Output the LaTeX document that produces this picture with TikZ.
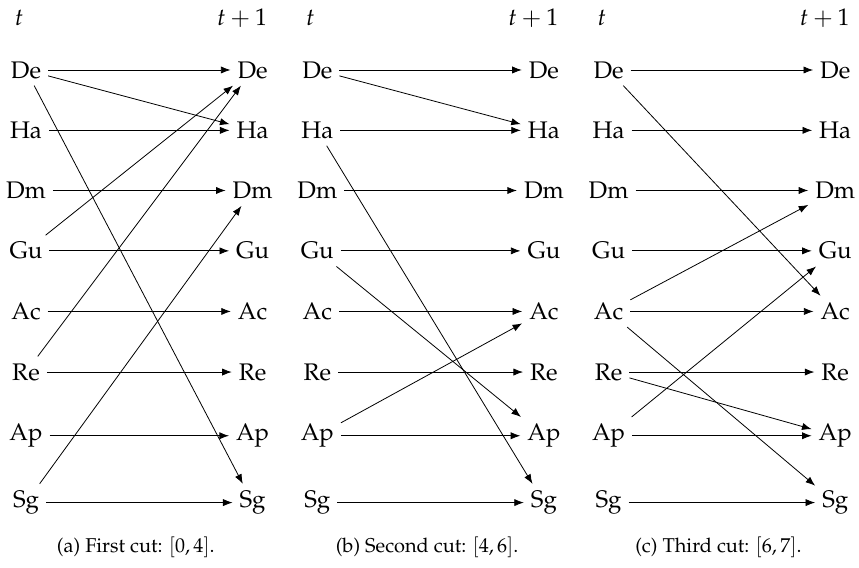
\documentclass[tikz,border=0pt]{standalone}
\usepackage[T1]{fontenc}
\usepackage{mathpazo}
\usepackage{tikz}
\usetikzlibrary{arrows.meta, positioning}
\tikzstyle{arr}=[-{Latex},thin]

\begin{document}
\begin{tikzpicture}[node distance=0.515cm, font=\fontsize{12}{14.4}\selectfont]
  \useasboundingbox (0,0) rectangle (15.095,-9.964);
  \foreach \p/\x/\cut in {a/0.457/{First cut: $[0,4]$.}, b/5.576/{Second cut: $[4,6]$.}, c/10.695/{Third cut: $[6,7]$.}} {
    \node (\p De0) at (\x,-1.23) {De};
    \node (\p De1) at (\x+3.982,-1.23) {De};
    \draw[arr] (\p De0) -- (\p De1);
    \foreach \n [remember=\n as \last (initially De)] in {Ha,Dm,Gu,Ac,Re,Ap,Sg} {
      \node[below=of \p\last0] (\p\n0) {\n};
      \node[below=of \p\last1] (\p\n1) {\n};
      \draw[arr] (\p\n0) -- (\p\n1);
    }
    \node (\p t0) at (\x-0.12,-0.316) {$t$};
    \node (\p t1) at (\x+3.797,-0.316) {$t+1$};
    \node[font=\fontsize{10}{12}\selectfont] (\p cap) at (\x+1.93,-9.612) {(\p) \cut};
  }
  % first cut
  \draw[arr] (aDe0) -- (aHa1);
  \draw[arr] (aDe0) -- (aSg1);
  \draw[arr] (aGu0) -- (aDe1);
  \draw[arr] (aRe0) -- (aDe1);
  \draw[arr] (aSg0) -- (aDm1);
  % second cut
  \draw[arr] (bDe0) -- (bHa1);
  \draw[arr] (bHa0) -- (bSg1);
  \draw[arr] (bGu0) -- (bAp1);
  \draw[arr] (bAp0) -- (bAc1);
  % third cut
  \draw[arr] (cDe0) -- (cAc1);
  \draw[arr] (cAc0) -- (cDm1);
  \draw[arr] (cAp0) -- (cGu1);
  \draw[arr] (cRe0) -- (cAp1);
  \draw[arr] (cAc0) -- (cSg1);
\end{tikzpicture}
\end{document}
